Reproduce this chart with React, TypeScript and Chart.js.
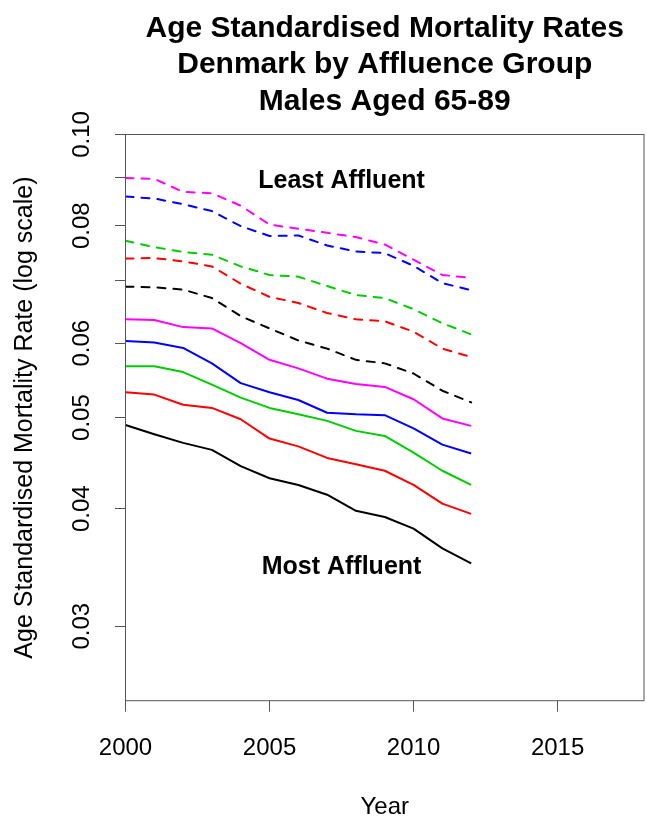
import React, { useEffect, useRef } from 'react';
import { Chart, registerables } from 'chart.js';

Chart.register(...registerables);

// ---- data ----
const years = [2000, 2001, 2002, 2003, 2004, 2005, 2006, 2007, 2008, 2009, 2010, 2011, 2012];

const group1 = [0.0491, 0.0480, 0.0470, 0.0462, 0.0444, 0.0431, 0.0424, 0.0414, 0.0398, 0.0392, 0.0381, 0.0363, 0.0350];
const group2 = [0.0532, 0.0529, 0.0516, 0.0512, 0.0498, 0.0475, 0.0466, 0.0453, 0.0446, 0.0439, 0.0424, 0.0405, 0.0395];
const group3 = [0.0567, 0.0567, 0.0559, 0.0542, 0.0525, 0.0512, 0.0504, 0.0496, 0.0484, 0.0478, 0.0459, 0.0439, 0.0424];
const group4 = [0.0603, 0.0601, 0.0593, 0.0571, 0.0544, 0.0532, 0.0522, 0.0506, 0.0504, 0.0503, 0.0487, 0.0468, 0.0458];
const group5 = [0.0636, 0.0635, 0.0624, 0.0622, 0.0600, 0.0576, 0.0564, 0.0550, 0.0543, 0.0539, 0.0523, 0.0499, 0.0490];
const group6 = [0.0689, 0.0688, 0.0684, 0.0670, 0.0641, 0.0622, 0.0604, 0.0592, 0.0576, 0.0571, 0.0557, 0.0534, 0.0519];
const group7 = [0.0738, 0.0739, 0.0733, 0.0724, 0.0694, 0.0672, 0.0662, 0.0646, 0.0636, 0.0633, 0.0617, 0.0592, 0.0580];
const group8 = [0.0771, 0.0759, 0.0750, 0.0745, 0.0724, 0.0709, 0.0706, 0.0690, 0.0675, 0.0670, 0.0652, 0.0630, 0.0613];
const group9 = [0.0859, 0.0855, 0.0843, 0.0829, 0.0799, 0.0780, 0.0781, 0.0762, 0.0751, 0.0748, 0.0725, 0.0695, 0.0683];
const group10 = [0.0899, 0.0897, 0.0869, 0.0866, 0.0840, 0.0802, 0.0794, 0.0786, 0.0778, 0.0764, 0.0736, 0.0709, 0.0704];

const groups = [group1, group2, group3, group4, group5, group6, group7, group8, group9, group10];
const groupColors = ['#000000', '#FF0000', '#00CD00', '#0000FF', '#FF00FF', '#000000', '#FF0000', '#00CD00', '#0000FF', '#FF00FF'];
const groupDashed = [false, false, false, false, false, true, true, true, true, true];

const xTickValues = [2000, 2005, 2010, 2015];
const yTickValues = [0.03, 0.04, 0.05, 0.06, 0.07, 0.08, 0.09, 0.1];
const yTickLabels = ['0.03', '0.04', '0.05', '0.06', '', '0.08', '', '0.10'];

const titleLines = ['Age Standardised Mortality Rates', 'Denmark by Affluence Group', 'Males Aged 65-89'];
const annotationTexts = ['Least Affluent', 'Most Affluent'];
const annotationX = [2007.5, 2007.5];
const annotationY = [0.0893, 0.0347];

const FONT = '"Liberation Sans", Arial, Helvetica, sans-serif';

const overlayPlugin = {
  id: 'overlay',
  afterDraw(chart: any) {
    const { ctx, chartArea: a, scales } = chart;
    ctx.save();
    // plot box
    ctx.strokeStyle = '#555555';
    ctx.lineWidth = 1;
    ctx.strokeRect(a.left, a.top, a.right - a.left, a.bottom - a.top);
    // title
    ctx.fillStyle = '#000000';
    ctx.font = `bold 30px ${FONT}`;
    ctx.textAlign = 'center';
    ctx.textBaseline = 'alphabetic';
    const cx = (a.left + a.right) / 2;
    titleLines.forEach((t, i) => ctx.fillText(t, cx, 36.5 + i * 36.5));
    // annotations
    ctx.font = `bold 25px ${FONT}`;
    ctx.textBaseline = 'middle';
    annotationTexts.forEach((t, i) => {
      ctx.fillText(t, scales.x.getPixelForValue(annotationX[i]), scales.y.getPixelForValue(annotationY[i]));
    });
    ctx.restore();
  },
};

export default function App() {
  const canvasRef = useRef<HTMLCanvasElement | null>(null);

  useEffect(() => {
    document.body.style.margin = '0';
    const canvas = canvasRef.current;
    if (!canvas) return;

    const datasets = groups.map((g, gi) => ({
      label: `Group ${gi + 1}`,
      data: years.map((yr, i) => ({ x: yr, y: g[i] })),
      borderColor: groupColors[gi],
      backgroundColor: groupColors[gi],
      borderWidth: 2,
      borderDash: groupDashed[gi] ? [8, 8] : [],
      borderCapStyle: groupDashed[gi] ? 'round' : 'butt',
      borderJoinStyle: 'round',
      pointRadius: 0,
      tension: 0,
      fill: false,
    }));

    const chart = new Chart(canvas, {
      type: 'line',
      data: { datasets } as any,
      options: {
        responsive: false,
        animation: false,
        devicePixelRatio: 1,
        layout: { padding: { top: 134.5, right: 3, left: 0, bottom: 0 } },
        plugins: { legend: { display: false }, tooltip: { enabled: false }, title: { display: false } },
        scales: {
          x: {
            type: 'linear',
            min: 2000,
            max: 2018,
            afterBuildTicks: (s: any) => {
              s.ticks = xTickValues.map((v) => ({ value: v }));
            },
            afterFit: (s: any) => {
              s.height = 118.3;
            },
            ticks: {
              callback: (v: any) => String(v),
              font: { family: FONT, size: 24 },
              color: '#000000',
              padding: 22,
              maxRotation: 0,
              minRotation: 0,
              autoSkip: false,
            },
            grid: { drawOnChartArea: false, drawTicks: true, tickLength: 11, color: '#555555', lineWidth: 1 },
            border: { display: false },
            title: {
              display: true,
              text: 'Year',
              font: { family: FONT, size: 24, lineHeight: 1 },
              color: '#000000',
              padding: { top: 0, bottom: 0 },
            },
          },
          y: {
            type: 'logarithmic',
            min: 0.025,
            max: 0.1,
            afterBuildTicks: (s: any) => {
              s.ticks = yTickValues.map((v) => ({ value: v }));
            },
            afterFit: (s: any) => {
              s.width = 125.5;
            },
            ticks: {
              callback: (v: any) => {
                const idx = yTickValues.findIndex((t) => Math.abs(t - v) < 1e-9);
                return idx >= 0 ? yTickLabels[idx] : '';
              },
              font: { family: FONT, size: 24 },
              color: '#000000',
              minRotation: 90,
              maxRotation: 90,
              crossAlign: 'center',
              padding: 9,
              autoSkip: false,
            },
            grid: { drawOnChartArea: false, drawTicks: true, tickLength: 10.5, color: '#555555', lineWidth: 1 },
            border: { display: false },
            title: {
              display: true,
              text: 'Age Standardised Mortality Rate (log scale)',
              font: { family: FONT, size: 25 },
              color: '#000000',
              padding: { top: 10, bottom: 0 },
            },
          },
        },
      } as any,
      plugins: [overlayPlugin],
    });

    return () => chart.destroy();
  }, []);

  return (
    <div style={{ width: 647, height: 819 }}>
      <canvas ref={canvasRef} width={647} height={819} style={{ display: 'block' }} />
    </div>
  );
}
